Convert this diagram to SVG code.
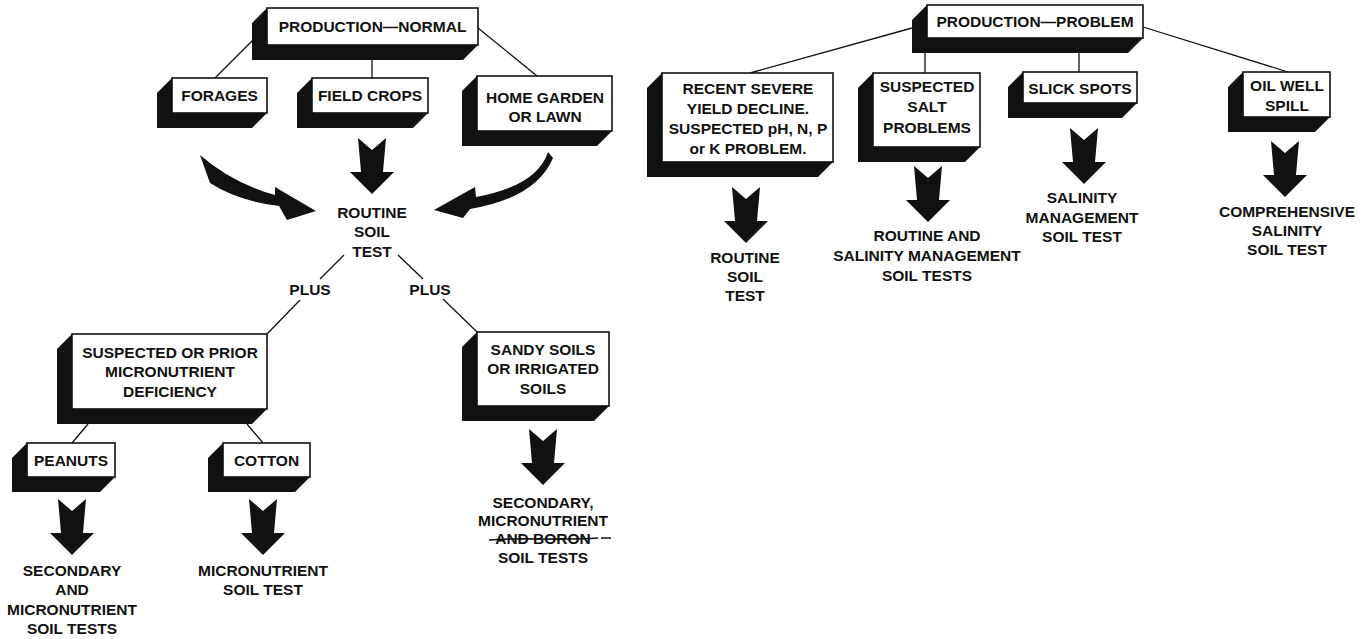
<svg xmlns="http://www.w3.org/2000/svg" xmlns:xlink="http://www.w3.org/1999/xlink" width="1369" height="639" viewBox="0 0 1369 639">
<style>
  .t { font-family: "Liberation Sans", Arial, sans-serif; font-weight: bold; font-size: 15.5px; fill: #111; text-anchor: middle; }
  .front { fill: #fff; stroke: #111; stroke-width: 1.6; }
  .shadow { fill: #111; }
  .conn line, .conn path { stroke: #111; stroke-width: 1.3; fill: none; }
  .big { fill: #111; }
</style>
<defs>
  <path id="arrow" d="M-14,0 L0,12 L14,0 L11,34 L22,34 L0,56 L-22,34 L-11,34 Z"/>
</defs>
<rect width="1369" height="639" fill="#fff"/>

<g id="connectors" class="conn">
  <line x1="253" y1="40" x2="215" y2="78"/>
  <line x1="372" y1="60" x2="372" y2="78"/>
  <line x1="478" y1="28" x2="537" y2="76"/>
  <line x1="344" y1="255" x2="320" y2="279"/>
  <line x1="300" y1="300" x2="267" y2="334"/>
  <line x1="398" y1="255" x2="423" y2="279"/>
  <line x1="443" y1="299" x2="477" y2="332"/>
  <line x1="88" y1="424" x2="72" y2="443"/>
  <line x1="247" y1="424" x2="263" y2="443"/>
  <line x1="912" y1="28" x2="750" y2="73"/>
  <line x1="925" y1="53" x2="925" y2="73"/>
  <line x1="1079" y1="53" x2="1079" y2="72"/>
  <line x1="1143" y1="27" x2="1288" y2="72"/>
</g>

<g id="flow-arrows" class="big">
  <path id="curve-left" d="M200,155 Q232,183 275,195 L275,187 L316,211 L287,220 L279,206 Q238,201 210,183 Z"/>
  <path id="curve-right" d="M548,152 Q537,186 476,197 L475,187 L434,210 L463,218 L470,209 Q536,198 553,158 Z"/>
  <use href="#arrow" x="372" y="138"/>
  <use href="#arrow" x="746" y="187"/>
  <use href="#arrow" x="928" y="166"/>
  <use href="#arrow" x="1084" y="128"/>
  <use href="#arrow" x="1285" y="141"/>
  <use href="#arrow" x="543" y="429"/>
  <use href="#arrow" x="72" y="499"/>
  <use href="#arrow" x="263" y="499"/>
</g>

<g id="prod-normal">
  <polygon class="shadow" points="267,8 252,23 252,60 463,60 478,45"/>
  <rect class="front" x="267" y="8" width="211" height="37"/>
  <text class="t" x="372.5" y="32">PRODUCTION—NORMAL</text>
</g>
<g id="forages">
  <polygon class="shadow" points="172,78 157,93 157,128 252,128 267,113"/>
  <rect class="front" x="172" y="78" width="95" height="35"/>
  <text class="t" x="219.5" y="101">FORAGES</text>
</g>
<g id="field-crops">
  <polygon class="shadow" points="312,78 297,93 297,128 413,128 428,113"/>
  <rect class="front" x="312" y="78" width="116" height="35"/>
  <text class="t" x="370" y="101">FIELD CROPS</text>
</g>
<g id="home-garden">
  <polygon class="shadow" points="477,76 462,91 462,146 597,146 612,131"/>
  <rect class="front" x="477" y="76" width="135" height="55"/>
  <text class="t" x="545" y="102.5">HOME GARDEN</text>
  <text class="t" x="545" y="121.5">OR LAWN</text>
</g>
<g id="routine-soil-test">
  <text class="t" x="372" y="217.5">ROUTINE</text>
  <text class="t" x="372" y="237">SOIL</text>
  <text class="t" x="372" y="256.5">TEST</text>
</g>
<g id="plus-left"><text class="t" x="310" y="294.5">PLUS</text></g>
<g id="plus-right"><text class="t" x="430" y="294.5">PLUS</text></g>

<g id="deficiency">
  <polygon class="shadow" points="72,334 57,349 57,424 252,424 267,409"/>
  <rect class="front" x="72" y="334" width="195" height="75"/>
  <text class="t" x="170" y="357.5">SUSPECTED OR PRIOR</text>
  <text class="t" x="170" y="377">MICRONUTRIENT</text>
  <text class="t" x="170" y="396.5">DEFICIENCY</text>
</g>
<g id="peanuts">
  <polygon class="shadow" points="27,443 12,458 12,492 100,492 115,477"/>
  <rect class="front" x="27" y="443" width="88" height="34"/>
  <text class="t" x="71" y="465.5">PEANUTS</text>
</g>
<g id="cotton">
  <polygon class="shadow" points="223,443 208,458 208,492 295,492 310,477"/>
  <rect class="front" x="223" y="443" width="87" height="34"/>
  <text class="t" x="266.5" y="465.5">COTTON</text>
</g>
<g id="peanut-result">
  <text class="t" x="72" y="575.5">SECONDARY</text>
  <text class="t" x="72" y="595">AND</text>
  <text class="t" x="72" y="614.5">MICRONUTRIENT</text>
  <text class="t" x="72" y="633.5">SOIL TESTS</text>
</g>
<g id="cotton-result">
  <text class="t" x="263" y="575.5">MICRONUTRIENT</text>
  <text class="t" x="263" y="595">SOIL TEST</text>
</g>
<g id="sandy">
  <polygon class="shadow" points="477,332 462,347 462,421 594,421 609,406"/>
  <rect class="front" x="477" y="332" width="132" height="74"/>
  <text class="t" x="543" y="354.5">SANDY SOILS</text>
  <text class="t" x="543" y="374">OR IRRIGATED</text>
  <text class="t" x="543" y="393.5">SOILS</text>
</g>
<g id="sandy-result">
  <text class="t" x="543" y="507.5">SECONDARY,</text>
  <text class="t" x="543" y="526">MICRONUTRIENT</text>
  <text class="t" x="543" y="544">AND BORON</text>
  <path d="M489,540 C520,537 560,541 598,538 M601,538 L611,538" stroke="#111" stroke-width="1.6" fill="none"/>
  <text class="t" x="543" y="562.5">SOIL TESTS</text>
</g>

<g id="prod-problem">
  <polygon class="shadow" points="927,5 912,20 912,53 1128,53 1143,38"/>
  <rect class="front" x="927" y="5" width="216" height="33"/>
  <text class="t" x="1035" y="27">PRODUCTION—PROBLEM</text>
</g>
<g id="recent">
  <polygon class="shadow" points="662,73 647,88 647,177 818,177 833,162"/>
  <rect class="front" x="662" y="73" width="171" height="89"/>
  <text class="t" x="748" y="93.5">RECENT SEVERE</text>
  <text class="t" x="748" y="113.5">YIELD DECLINE.</text>
  <text class="t" x="748" y="133.5">SUSPECTED pH, N, P</text>
  <text class="t" x="748" y="153.5">or K PROBLEM.</text>
</g>
<g id="salt">
  <polygon class="shadow" points="873,73 858,88 858,162 965,162 980,147"/>
  <rect class="front" x="873" y="73" width="107" height="74"/>
  <text class="t" x="927" y="91.5">SUSPECTED</text>
  <text class="t" x="927" y="112">SALT</text>
  <text class="t" x="927" y="132.5">PROBLEMS</text>
</g>
<g id="slick">
  <polygon class="shadow" points="1023,72 1008,87 1008,118 1122,118 1137,103"/>
  <rect class="front" x="1023" y="72" width="114" height="31"/>
  <text class="t" x="1080" y="94">SLICK SPOTS</text>
</g>
<g id="oil">
  <polygon class="shadow" points="1243,72 1228,87 1228,132 1315,132 1330,117"/>
  <rect class="front" x="1243" y="72" width="87" height="45"/>
  <text class="t" x="1287" y="90.5">OIL WELL</text>
  <text class="t" x="1287" y="110.5">SPILL</text>
</g>
<g id="recent-result">
  <text class="t" x="745" y="262.5">ROUTINE</text>
  <text class="t" x="745" y="282">SOIL</text>
  <text class="t" x="745" y="300.5">TEST</text>
</g>
<g id="salt-result">
  <text class="t" x="927" y="240.5">ROUTINE AND</text>
  <text class="t" x="927" y="260.5">SALINITY MANAGEMENT</text>
  <text class="t" x="927" y="280.5">SOIL TESTS</text>
</g>
<g id="slick-result">
  <text class="t" x="1082" y="202.5">SALINITY</text>
  <text class="t" x="1082" y="222.5">MANAGEMENT</text>
  <text class="t" x="1082" y="241.5">SOIL TEST</text>
</g>
<g id="oil-result">
  <text class="t" x="1287" y="216.5">COMPREHENSIVE</text>
  <text class="t" x="1287" y="235.5">SALINITY</text>
  <text class="t" x="1287" y="254.5">SOIL TEST</text>
</g>
</svg>
